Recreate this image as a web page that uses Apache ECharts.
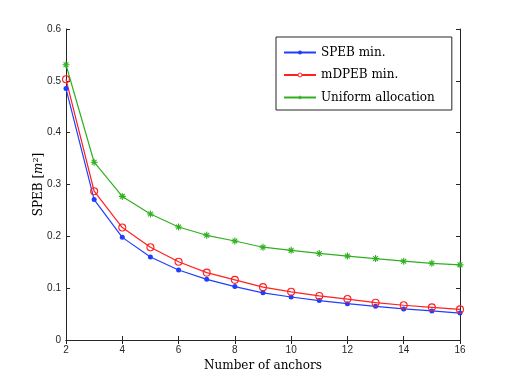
<!DOCTYPE html>
<html>
<head>
<meta charset="utf-8">
<script src="https://cdn.jsdelivr.net/npm/echarts@6/dist/echarts.min.js"></script>
<style>
  html, body { margin: 0; padding: 0; background: #fff; }
  #chart { width: 508px; height: 382px; }
</style>
</head>
<body>
<div id="chart"></div>
<script>
// number of anchors
var anchors = [2, 3, 4, 5, 6, 7, 8, 9, 10, 11, 12, 13, 14, 15, 16];
var spebMin = [0.485, 0.271, 0.198, 0.160, 0.135, 0.117, 0.103, 0.091, 0.083, 0.076, 0.070, 0.065, 0.060, 0.056, 0.052];
var mdpebMin = [0.503, 0.287, 0.217, 0.179, 0.151, 0.130, 0.116, 0.102, 0.093, 0.085, 0.079, 0.072, 0.067, 0.063, 0.059];
var uniformAlloc = [0.531, 0.343, 0.277, 0.243, 0.218, 0.202, 0.191, 0.179, 0.173, 0.167, 0.162, 0.157, 0.152, 0.148, 0.145];
var seriesNames = ['SPEB min.', 'mDPEB min.', 'Uniform allocation'];

var serif = 'DejaVu Serif';
var asterisk = 'path://M4.2 0h1.6v10h-1.6z M0 4.2h10v1.6h-10z M1 2.1L2.1 1L9 7.9L7.9 9Z M7.9 1L9 2.1L2.1 9L1 7.9Z';

function pairs(vals) {
    var out = [];
    for (var i = 0; i < anchors.length; i++) {
        out.push([anchors[i], vals[i]]);
    }
    return out;
}

var frame = '#262626';
var tickLbl = { color: '#262626', fontSize: 10, fontFamily: 'Liberation Sans' };

var chart = echarts.init(document.getElementById('chart'));
chart.setOption({
    animation: false,
    backgroundColor: '#fff',
    grid: { left: 66, right: 48, top: 29, bottom: 42, containLabel: false },
    legend: {
        orient: 'vertical',
        left: 276,
        top: 37,
        padding: [8, 17, 5, 7],
        itemWidth: 32,
        itemHeight: 5,
        itemGap: 7.5,
        backgroundColor: '#fff',
        borderColor: frame,
        borderWidth: 1,
        borderRadius: 0,
        textStyle: { fontFamily: serif, fontSize: 12, lineHeight: 15, color: '#000' },
        data: [
            { name: seriesNames[0] },
            { name: seriesNames[1], itemStyle: { color: '#fff', borderColor: '#ff2020', borderWidth: 1 } },
            { name: seriesNames[2] }
        ]
    },
    xAxis: [
        {
            type: 'value',
            min: 2,
            max: 16,
            interval: 2,
            name: 'Number of anchors',
            nameLocation: 'middle',
            nameGap: 20,
            nameTextStyle: { fontFamily: serif, fontSize: 12, color: '#000' },
            axisLine: { lineStyle: { color: frame, width: 1 } },
            axisTick: { inside: true, length: 4, lineStyle: { color: frame } },
            axisLabel: Object.assign({ margin: 5 }, tickLbl),
            splitLine: { show: false }
        },
        {
            type: 'value',
            position: 'top',
            min: 2,
            max: 16,
            interval: 2,
            axisLine: { lineStyle: { color: frame, width: 1 } },
            axisTick: { inside: true, length: 4, lineStyle: { color: frame } },
            axisLabel: { show: false },
            splitLine: { show: false }
        }
    ],
    yAxis: [
        {
            type: 'value',
            min: 0,
            max: 0.6,
            interval: 0.1,
            name: 'SPEB [{i|m}{s|2}]',
            nameLocation: 'middle',
            nameGap: 20,
            nameMoveOverlap: false,
            nameTextStyle: {
                fontFamily: serif, fontSize: 12, color: '#000',
                rich: {
                    i: { fontFamily: serif, fontStyle: 'italic', fontSize: 12, color: '#000' },
                    s: { fontFamily: serif, fontSize: 8, color: '#000', verticalAlign: 'top', padding: [0, 0, 6, 0] }
                }
            },
            axisLine: { lineStyle: { color: frame, width: 1 } },
            axisTick: { inside: true, length: 4, lineStyle: { color: frame } },
            axisLabel: Object.assign({ margin: 5 }, tickLbl),
            splitLine: { show: false }
        },
        {
            type: 'value',
            position: 'right',
            min: 0,
            max: 0.6,
            interval: 0.1,
            axisLine: { lineStyle: { color: frame, width: 1 } },
            axisTick: { inside: true, length: 4, lineStyle: { color: frame } },
            axisLabel: { show: false },
            splitLine: { show: false }
        }
    ],
    series: [
        {
            name: seriesNames[0],
            type: 'line',
            data: pairs(spebMin),
            symbol: 'circle',
            symbolSize: 5,
            lineStyle: { color: '#1f3fff', width: 1.2 },
            itemStyle: { color: '#1f3fff' }
        },
        {
            name: seriesNames[1],
            type: 'line',
            data: pairs(mdpebMin),
            symbol: 'circle',
            symbolSize: 7,
            lineStyle: { color: '#ff2020', width: 1.2 },
            itemStyle: { color: 'rgba(255,255,255,0)', borderColor: '#ff2020', borderWidth: 1.1 }
        },
        {
            name: seriesNames[2],
            type: 'line',
            data: pairs(uniformAlloc),
            symbol: asterisk,
            symbolSize: 7,
            lineStyle: { color: '#30b020', width: 1.2 },
            itemStyle: { color: '#30b020' }
        }
    ]
});
</script>
</body>
</html>
